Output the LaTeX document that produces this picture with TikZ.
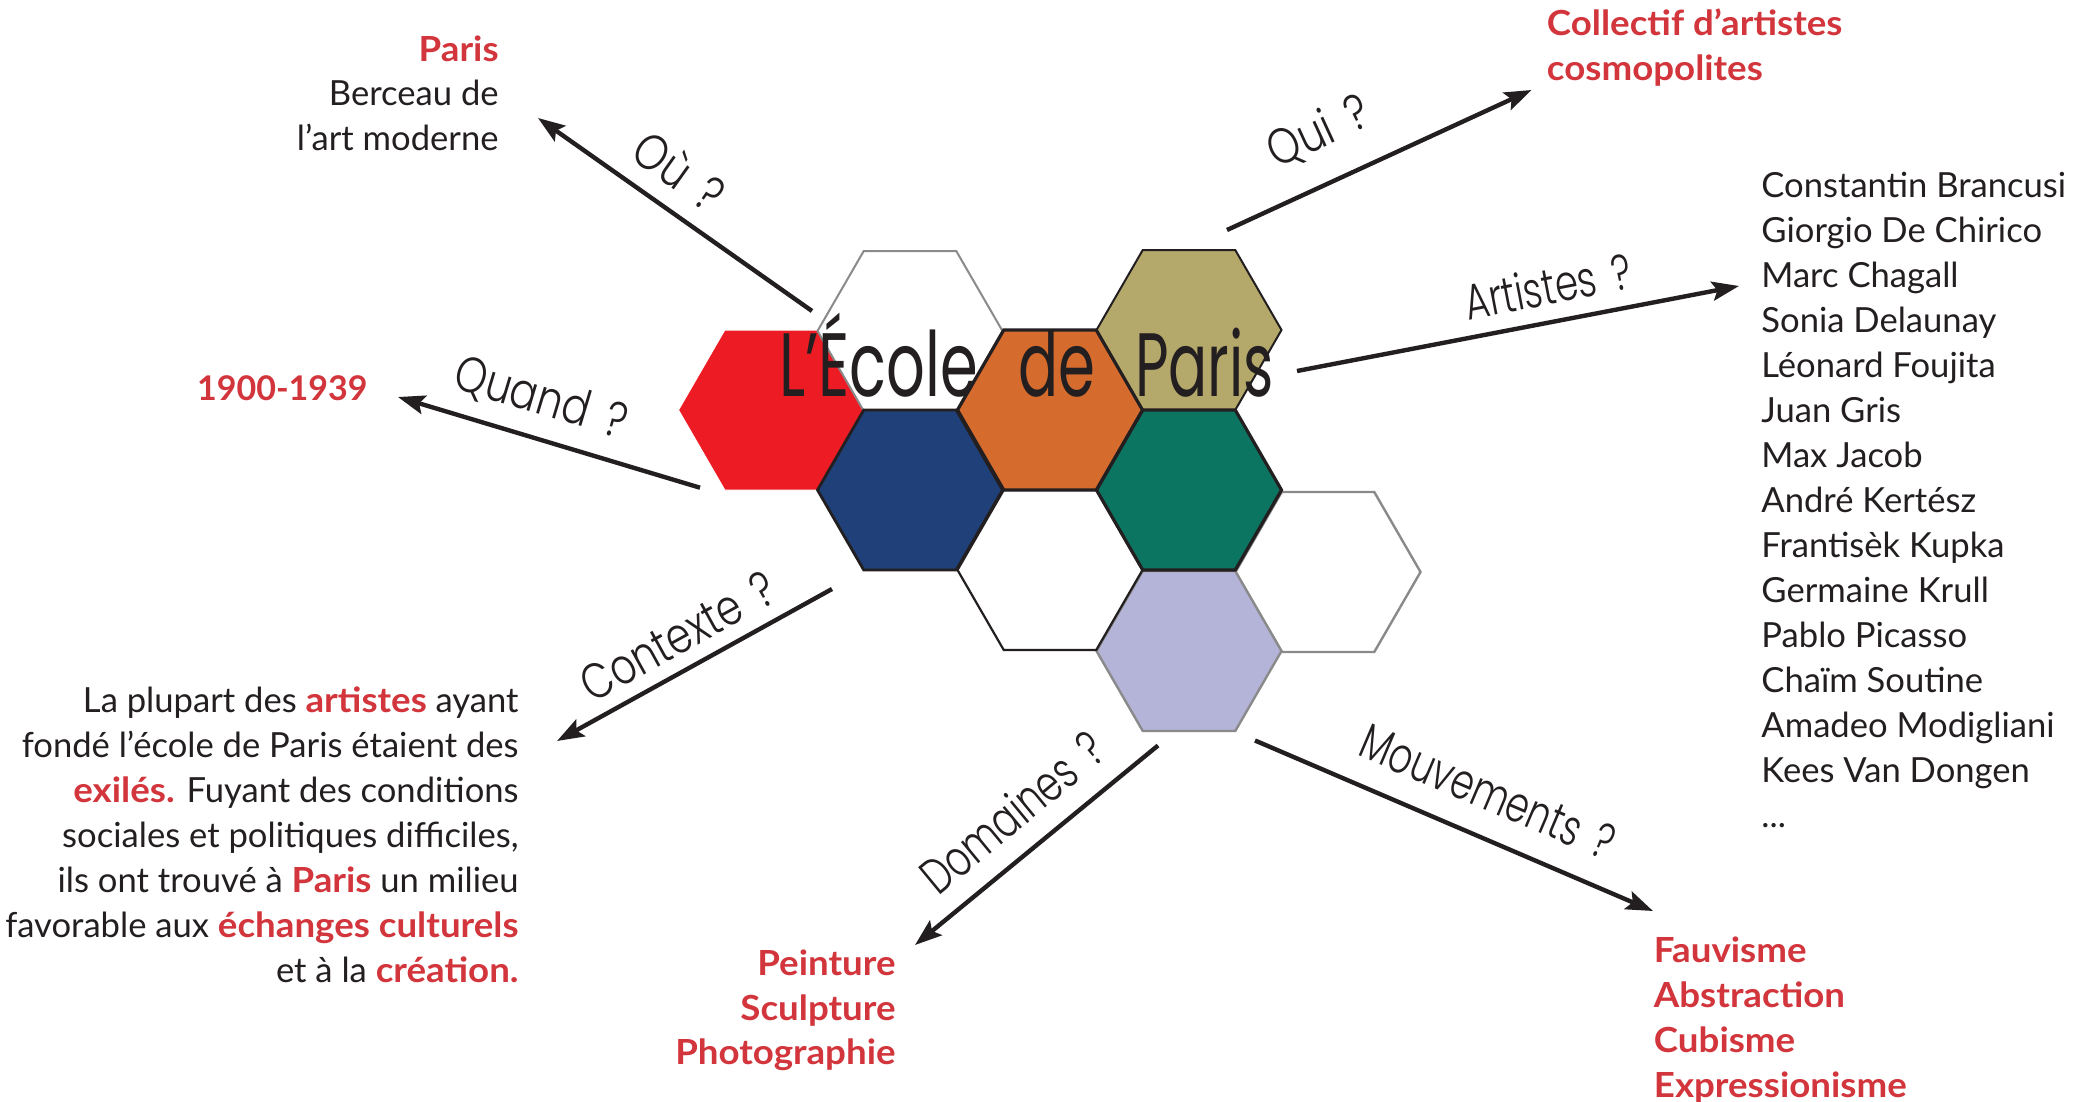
\documentclass[tikz,border=0pt]{standalone}
\usepackage{fontspec}
\setmainfont{Lato}
\newfontfamily\redfont{Lato}[FakeStretch=1.06]
\newfontfamily\titlefont{Poppins}
\IfFontExistsTF{Poppins Light}{\newfontfamily\labfont{Poppins Light}}{\newfontfamily\labfont{Poppins}}
\usetikzlibrary{arrows.meta}
\definecolor{ink}{HTML}{231F20}
\definecolor{accent}{HTML}{D2363C}
\definecolor{hred}{HTML}{ED1C24}
\definecolor{hblue}{HTML}{1F4078}
\definecolor{horange}{HTML}{D66B2E}
\definecolor{hkhaki}{HTML}{B5A86B}
\definecolor{hgreen}{HTML}{0C7562}
\definecolor{hlav}{HTML}{B3B4D8}
\definecolor{hgray}{HTML}{8A8A8A}
\newcommand\rd[1]{{\redfont\bfseries\color{accent}#1}}
\tikzset{
  hexa/.pic={\path[pic actions] (-92.5,0) -- (-46.25,-80) -- (46.25,-80) -- (92.5,0) -- (46.25,80) -- (-46.25,80) -- cycle;},
  arr/.style={draw=ink, line width=2.2pt, -{Stealth[length=13.5pt,width=9.5pt,inset=2.5pt]}},
  lab/.style={font=\labfont\fontsize{25}{25}\selectfont, text=ink, inner sep=0pt},
  body/.style={text=ink, inner sep=0pt},
  redblock/.style={text=accent, inner sep=0pt}
}
\begin{document}
\begin{tikzpicture}[x=0.5pt,y=-0.5pt]
\fill[white] (0,0) rectangle (2092,1102);
\useasboundingbox (0,0) rectangle (2092,1102);

% hexagons
\pic[fill=hred, draw=white, line width=0.5pt] at (771,410) {hexa};
\pic[fill=white, draw=hgray, line width=1pt] at (910,331) {hexa};
\pic[fill=white, draw=hgray, line width=1.2pt] at (1328,572) {hexa};
\pic[fill=hlav, draw=hgray, line width=1.2pt] at (1189,651) {hexa};
\pic[fill=white, draw=ink, line width=1.1pt] at (1050,570) {hexa};
\pic[fill=hkhaki, draw=ink, line width=1pt] at (1189,330) {hexa};
\pic[fill=hblue, draw=ink, line width=1.4pt] at (910,490) {hexa};
\pic[fill=hgreen, draw=ink, line width=1.6pt] at (1189,490) {hexa};
\pic[fill=horange, draw=ink, line width=1.6pt] at (1050,410) {hexa};

% title
\node[anchor=base, inner sep=0pt, text=ink] (title) at (1026.5,396.7)
  {\titlefont\fontsize{45}{45}\selectfont\resizebox{99.5pt}{\height}{L’École}\hspace{20pt}\resizebox{38.5pt}{\height}{de}\hspace{20pt}\resizebox{69.5pt}{\height}{Paris}};

% arrow end points
\coordinate (ouS) at (812,311);   \coordinate (ouE) at (538,118);
\coordinate (quS) at (700,487.7); \coordinate (quE) at (398,397);
\coordinate (coS) at (832,589);   \coordinate (coE) at (557,741);
\coordinate (doS) at (1158,745.5);\coordinate (doE) at (915,945);
\coordinate (moS) at (1255,740.5);\coordinate (moE) at (1653,911);
\coordinate (qiS) at (1227,230);  \coordinate (qiE) at (1531.5,90);
\coordinate (arS) at (1297,371);  \coordinate (arE) at (1739,286);

\draw[arr] (ouS) -- (ouE);
\draw[arr] (quS) -- (quE);
\draw[arr] (coS) -- (coE);
\draw[arr] (doS) -- (doE);
\draw[arr] (moS) -- (moE);
\draw[arr] (qiS) -- (qiE);
\draw[arr] (arS) -- (arE);

% labels
\node[lab, rotate=-35.4] (lou) at (680,171) {\resizebox{49.5pt}{\height}{Où\hspace{0.45em}?}};
\node[lab, rotate=-16.7] (lqu) at (541,399) {\resizebox{89pt}{\height}{Quand\hspace{0.45em}?}};
\node[lab, rotate=28.9] (lco) at (678,636) {\resizebox{107.5pt}{\height}{Contexte\hspace{0.45em}?}};
\node[lab, rotate=39.5] (ldo) at (1012,812) {\resizebox{111pt}{\height}{Domaines\hspace{0.45em}?}};
\node[lab, rotate=-23.1] (lmo) at (1488,792) {\resizebox{135.5pt}{\height}{Mouvements\hspace{0.45em}?}};
\node[lab, rotate=24.7] (lqi) at (1319,132.5) {\resizebox{53.5pt}{\height}{Qui\hspace{0.45em}?}};
\node[lab, rotate=10.9] (lar) at (1548,286) {\resizebox{84.5pt}{\height}{Artistes\hspace{0.45em}?}};

% text blocks
\node[body, anchor=north east, align=right, font=\fontsize{17.3}{22.25}\selectfont] (ou) at (499,29.85)
  {\strut\rd{Paris}\\Berceau de\\l’art moderne};
\node[redblock, anchor=base east, font=\bfseries\fontsize{17}{22}\selectfont] (quand) at (368,400) {1900-1939};
\node[redblock, anchor=north west, align=left, font=\redfont\bfseries\fontsize{17.3}{22.5}\selectfont] (qui) at (1546.5,3.8)
  {\strut Collectif d’artistes\\cosmopolites};
\node[body, anchor=north west, align=left, font=\fontsize{17.3}{22.5}\selectfont] (artistes) at (1761,165.5)
  {\strut Constantin Brancusi\\Giorgio De Chirico\\Marc Chagall\\Sonia Delaunay\\Léonard Foujita\\Juan Gris\\Max Jacob\\André Kertész\\Frantisèk Kupka\\Germaine Krull\\Pablo Picasso\\Chaïm Soutine\\Amadeo Modigliani\\Kees Van Dongen\\...};
\node[body, anchor=north east, align=right, font=\fontsize{17.3}{22.5}\selectfont] (contexte) at (519,680.2)
  {\strut La plupart des \rd{artistes} ayant\\fondé l’école de Paris étaient des\\\rd{exilés.} Fuyant des conditions\\sociales et politiques difficiles,\\ils ont trouvé à \rd{Paris} un milieu\\favorable aux \rd{échanges culturels}\\et à la \rd{création.}};
\node[redblock, anchor=north east, align=right, font=\redfont\bfseries\fontsize{17.3}{22.4}\selectfont] (domaines) at (896,943.6)
  {\strut Peinture\\Sculpture\\Photographie};
\node[redblock, anchor=north west, align=left, font=\redfont\bfseries\fontsize{17.3}{22.5}\selectfont] (mouvements) at (1653.5,930.5)
  {\strut Fauvisme\\Abstraction\\Cubisme\\Expressionisme};
\end{tikzpicture}
\end{document}
